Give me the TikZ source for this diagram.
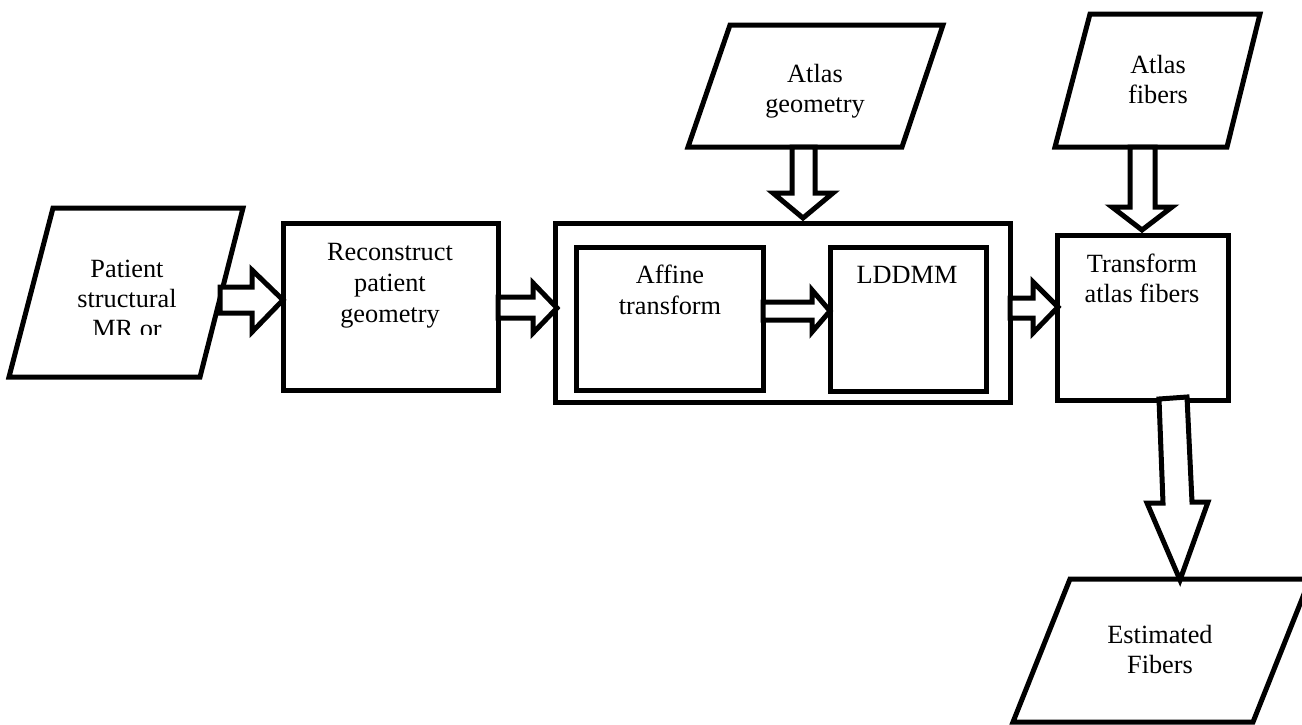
\documentclass[tikz,border=0pt]{standalone}
\usepackage{fontspec}
\setmainfont{Liberation Serif}
\begin{document}
\begin{tikzpicture}[x=1pt,y=-1pt,
  line width=5pt,
  box/.style={draw, line width=5pt, rectangle, inner sep=0pt, outer sep=0pt},
  para/.style={draw, line width=5pt, fill=white, line join=miter},
  blk/.style={draw, line width=5pt, fill=white, line join=miter},
  lbl/.style={inner sep=0pt, anchor=base, font=\fontsize{26.3}{31}\selectfont}]
\useasboundingbox (0,0) rectangle (1302,724);
\clip (0,0) rectangle (1302,724);

% parallelograms (data)
\draw[para] (53,208) -- (243,208) -- (200,377) -- (9,377) -- cycle;
\draw[para] (730,25) -- (943,25) -- (902,147) -- (688,147) -- cycle;
\draw[para] (1090,14) -- (1260,14) -- (1227,147) -- (1055,147) -- cycle;
\draw[para] (1070,579) -- (1310,579) -- (1253,722) -- (1013,722) -- cycle;

% process boxes
\node[box, minimum width=215pt, minimum height=167pt] (rec) at (390.5,306.5) {};
\node[box, minimum width=455pt, minimum height=179pt] (outer) at (782.5,312.5) {};
\node[box, minimum width=187pt, minimum height=143pt] (aff) at (669.5,318.5) {};
\node[box, minimum width=156pt, minimum height=144pt] (ldd) at (908,319) {};
\node[box, minimum width=171pt, minimum height=165pt] (trf) at (1142.5,317.5) {};

% labels
\begin{scope}
\clip (0,0) rectangle (300,334);
\node[lbl] (p1) at (127,277) {Patient};
\node[lbl] (p2) at (127,307) {structural};
\node[lbl] (p3) at (127,337) {MR or};
\end{scope}
\node[lbl] (r1) at (390,260) {Reconstruct};
\node[lbl] (r2) at (390,291) {patient};
\node[lbl] (r3) at (390,322) {geometry};
\node[lbl] (a1) at (670,283) {Affine};
\node[lbl] (a2) at (670,314) {transform};
\node[lbl] (l1) at (907,283) {LDDMM};
\node[lbl] (g1) at (815,82) {Atlas};
\node[lbl] (g2) at (815,112) {geometry};
\node[lbl] (f1) at (1158,73) {Atlas};
\node[lbl] (f2) at (1158,103) {fibers};
\node[lbl] (t1) at (1142,272) {Transform};
\node[lbl] (t2) at (1142,302) {atlas fibers};
\node[lbl] (e1) at (1160,643) {Estimated};
\node[lbl] (e2) at (1160,673) {Fibers};

% block arrows
\draw[blk] (220,287) -- (252,287) -- (252,270) -- (283,300) -- (252,332) -- (252,313) -- (220,313) -- cycle;
\draw[blk] (rec.east |- 0,297) -- (533,297) -- (533,283) -- (557,308) -- (533,333) -- (533,318) -- (rec.east |- 0,318) -- cycle;
\draw[blk] (aff.east |- 0,302) -- (812,302) -- (812,290) -- (830,311) -- (812,332) -- (812,320) -- (aff.east |- 0,320) -- cycle;
\draw[blk] (outer.east |- 0,298) -- (1033,298) -- (1033,282) -- (1058,307) -- (1033,333) -- (1033,318) -- (outer.east |- 0,318) -- cycle;
\draw[blk] (792,147) -- (792,193) -- (773,193) -- (803,218) -- (833,193) -- (815,193) -- (815,147) -- cycle;
\draw[blk] (1130,147) -- (1130,207) -- (1112,207) -- (1142,230) -- (1172,207) -- (1155,207) -- (1155,147) -- cycle;
\draw[blk] (1159,399) -- (1163,503) -- (1147,503) -- (1180,580) -- (1208,502) -- (1192,502) -- (1187,397) -- cycle;
\end{tikzpicture}
\end{document}
